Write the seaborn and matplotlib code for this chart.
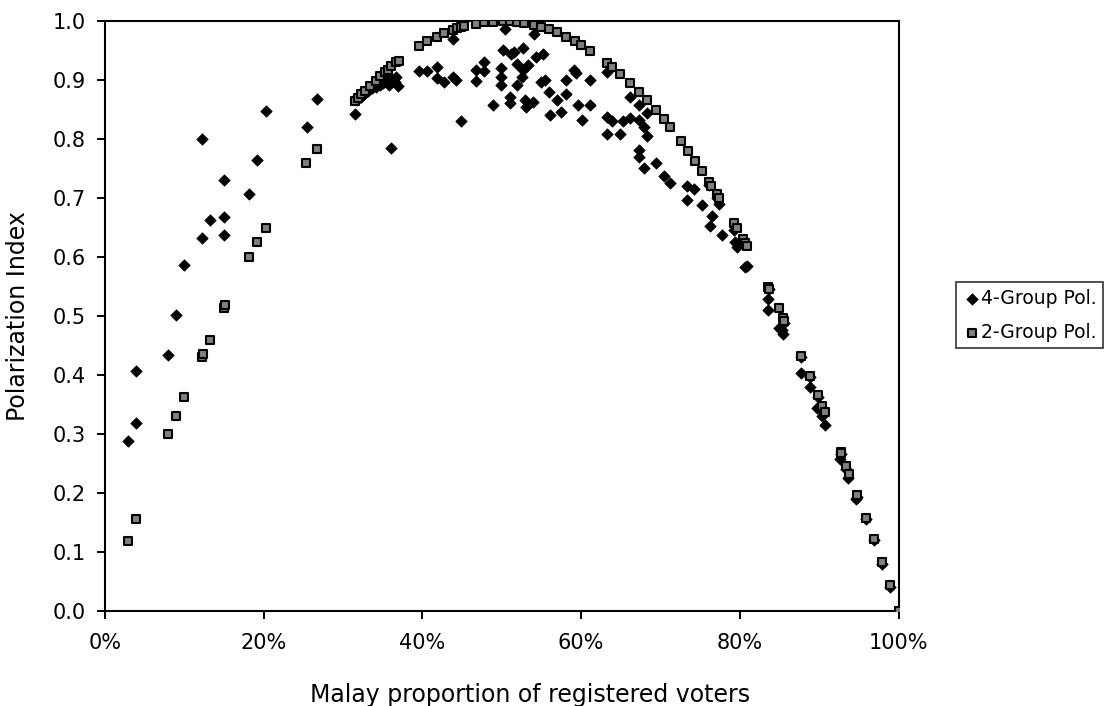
import matplotlib
matplotlib.use("Agg")
import matplotlib.pyplot as plt
import seaborn as sns
import pandas as pd
from matplotlib.ticker import FuncFormatter

# values (x = Malay share in %, y = index)
four_x = [2.9, 3.9, 3.9, 7.9, 8.9, 9.9, 12.2, 12.2, 13.2, 15.0, 15.0, 15.0, 18.2, 19.2, 20.3,
          25.4, 26.7, 31.5, 31.7, 32.2, 32.6, 33.1, 33.6, 34.1, 34.7, 35.0, 35.4, 35.8, 36.2,
          36.5, 36.7, 36.9, 36.0, 39.6, 40.6, 41.8, 41.8, 42.7, 43.8, 44.2, 43.9, 44.8,
          46.8, 46.8, 47.8, 47.8, 48.9, 49.9, 49.9, 49.9, 50.4, 50.2, 51.0, 51.0, 51.2, 51.6,
          51.9, 51.9, 52.7, 52.6, 52.7, 53.3, 52.9, 53.0, 53.9, 54.0, 54.3, 55.2, 54.9, 55.5,
          55.9, 56.1, 57.0, 57.5, 58.1, 58.1, 59.1, 59.4, 59.6, 60.1, 61.1, 61.1, 63.2, 63.2,
          63.2, 63.9, 64.9, 65.3, 66.2, 66.2, 67.3, 67.3, 67.9, 68.3, 68.3, 67.3, 67.3, 67.9,
          69.4, 70.4, 71.2, 73.4, 74.2, 73.4, 75.2, 76.5, 76.2, 77.7, 79.4, 79.6, 80.7, 80.9,
          83.6, 83.6, 84.9, 85.5, 85.3, 87.7, 88.8, 89.7, 90.3, 90.7, 92.6, 93.6, 94.7,
          76.1, 77.1, 77.4, 79.3, 80.4, 83.7, 85.6, 87.7, 88.8, 89.8, 90.4, 92.7, 93.4, 94.8,
          95.9, 96.9, 97.9, 98.9, 100.0]
four_y = [0.288, 0.407, 0.319, 0.433, 0.502, 0.587, 0.800, 0.633, 0.663, 0.731, 0.668, 0.637,
          0.706, 0.764, 0.847, 0.821, 0.868, 0.842, 0.866, 0.872, 0.876, 0.882, 0.886, 0.888,
          0.892, 0.895, 0.898, 0.891, 0.902, 0.896, 0.905, 0.890, 0.785, 0.915, 0.915, 0.922,
          0.903, 0.896, 0.905, 0.900, 0.970, 0.830, 0.918, 0.898, 0.930, 0.916, 0.858, 0.920,
          0.906, 0.892, 0.987, 0.951, 0.872, 0.862, 0.945, 0.947, 0.928, 0.892, 0.955, 0.905,
          0.917, 0.925, 0.867, 0.855, 0.863, 0.979, 0.940, 0.944, 0.897, 0.900, 0.880, 0.841,
          0.867, 0.846, 0.876, 0.900, 0.918, 0.912, 0.857, 0.833, 0.900, 0.858, 0.914, 0.837,
          0.808, 0.830, 0.808, 0.830, 0.836, 0.872, 0.832, 0.858, 0.820, 0.806, 0.845, 0.782,
          0.770, 0.751, 0.759, 0.738, 0.725, 0.720, 0.716, 0.696, 0.688, 0.669, 0.652, 0.638,
          0.625, 0.617, 0.583, 0.585, 0.528, 0.510, 0.479, 0.469, 0.476, 0.403, 0.380, 0.343,
          0.330, 0.315, 0.257, 0.225, 0.190,
          0.722, 0.700, 0.690, 0.645, 0.628, 0.545, 0.488, 0.430, 0.396, 0.362, 0.340, 0.265,
          0.240, 0.193, 0.155, 0.120, 0.080, 0.041, 0.000]

two_x = [2.9, 3.9, 7.9, 8.9, 9.9, 12.2, 12.3, 13.2, 15.0, 15.1, 18.2, 19.2, 20.3, 25.3, 26.7,
         31.5, 31.9, 32.3, 32.8, 33.4, 34.1, 34.7, 35.3, 35.6, 36.1, 36.7, 37.0, 39.6, 40.6,
         41.8, 42.7, 43.8, 44.4, 44.8, 45.2, 46.7, 47.8, 48.9, 50.1, 51.0, 51.9, 52.8, 54.0,
         55.0, 56.0, 56.9, 58.1, 59.2, 60.0, 61.1, 63.2, 63.9, 64.9, 66.2, 67.3, 68.3, 69.4,
         70.4, 71.2, 72.6, 73.5, 74.4, 75.2, 76.1, 76.4, 77.1, 77.4, 79.3, 79.6, 80.4, 80.7,
         80.9, 83.6, 83.7, 84.9, 85.5, 85.6, 87.7, 88.8, 89.8, 90.4, 90.7, 92.7, 92.8, 93.4,
         93.8, 94.8, 95.9, 96.9, 97.9, 98.9, 100.0]
two_y = [0.119, 0.156, 0.300, 0.330, 0.363, 0.430, 0.435, 0.460, 0.513, 0.519, 0.600, 0.625,
         0.649, 0.760, 0.784, 0.864, 0.870, 0.876, 0.882, 0.890, 0.899, 0.907, 0.914, 0.918,
         0.924, 0.930, 0.933, 0.958, 0.966, 0.973, 0.980, 0.985, 0.988, 0.990, 0.991, 0.996,
         0.998, 0.999, 1.000, 1.000, 0.999, 0.997, 0.994, 0.990, 0.986, 0.981, 0.974, 0.966,
         0.960, 0.950, 0.929, 0.922, 0.910, 0.895, 0.880, 0.866, 0.850, 0.834, 0.821, 0.796,
         0.780, 0.762, 0.746, 0.728, 0.721, 0.706, 0.700, 0.657, 0.650, 0.631, 0.623, 0.618,
         0.549, 0.546, 0.514, 0.496, 0.492, 0.432, 0.398, 0.366, 0.347, 0.337, 0.270, 0.267,
         0.246, 0.232, 0.196, 0.157, 0.121, 0.082, 0.043, 0.000]

four = pd.DataFrame({"x": four_x, "y": four_y})
two = pd.DataFrame({"x": two_x, "y": two_y})

sns.set_style("white")
plt.rcParams["font.family"] = ["DejaVu Sans"]
plt.rcParams["text.color"] = "black"
plt.rcParams["axes.labelcolor"] = "black"
plt.rcParams["xtick.color"] = "black"
plt.rcParams["ytick.color"] = "black"

fig = plt.figure(figsize=(11.09, 7.06), dpi=100)
ax = fig.add_axes([0.0947, 0.135, 0.7155, 0.835])

sns.scatterplot(data=four, x="x", y="y", marker="D", s=34, color="black",
                edgecolor="black", linewidth=0.5, label="4-Group Pol.", ax=ax, zorder=3)
sns.scatterplot(data=two, x="x", y="y", marker="s", s=36, color="#808080",
                edgecolor="black", linewidth=1.5, label="2-Group Pol.", ax=ax, zorder=4)

ax.set_xlim(0, 100)
ax.set_ylim(0, 1.0)
ax.set_xticks(range(0, 101, 20))
ax.set_yticks([i / 10 for i in range(11)])
ax.xaxis.set_major_formatter(FuncFormatter(lambda v, p: "{:.0f}%".format(v)))
ax.yaxis.set_major_formatter(FuncFormatter(lambda v, p: "{:.1f}".format(v)))
ax.tick_params(axis="both", direction="out", length=6, width=1.4, color="black",
               labelcolor="black", labelsize=15, left=True, bottom=True)
ax.tick_params(axis="y", pad=8)
ax.tick_params(axis="x", pad=10)
for s in ax.spines.values():
    s.set_color("black")
    s.set_linewidth(1.5)
ax.set_xlabel("Malay proportion of registered voters", fontsize=17, color="black")
ax.set_ylabel("Polarization Index", fontsize=17, color="black")
ax.xaxis.set_label_coords(0.536, -0.122)
ax.yaxis.set_label_coords(-0.094, 0.5)

leg = ax.legend(loc="upper left", bbox_to_anchor=(0.862, 0.6006),
                bbox_transform=fig.transFigure, fontsize=13.5, frameon=True,
                fancybox=False, borderpad=0.35, handletextpad=0.0, handlelength=1.0,
                labelspacing=0.8, borderaxespad=0)
leg.get_frame().set_edgecolor("black")
leg.get_frame().set_linewidth(1.2)
for t in leg.get_texts():
    t.set_color("black")

fig.savefig("out.png", dpi=100)
